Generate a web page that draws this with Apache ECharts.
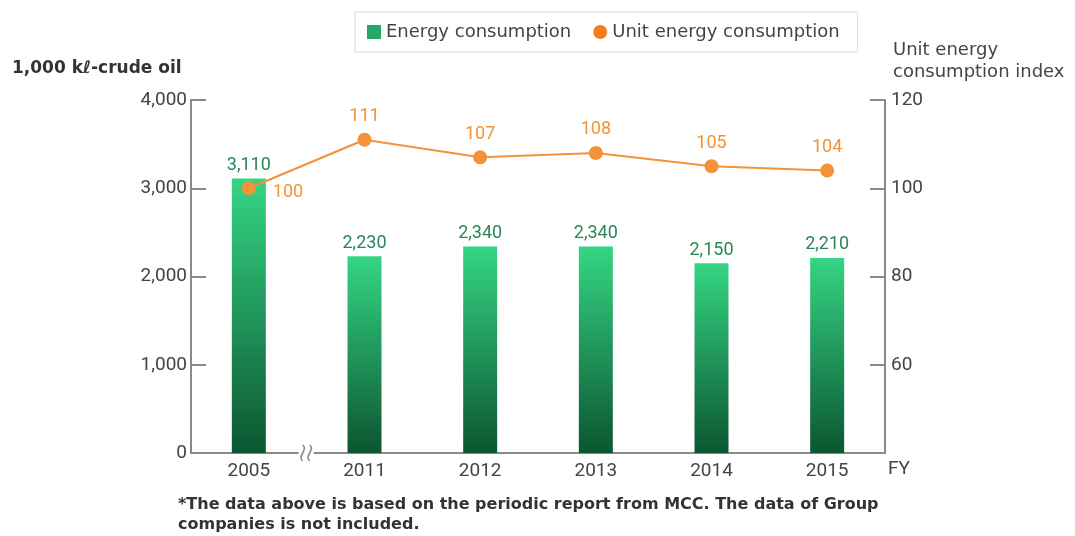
<!DOCTYPE html>
<html>
<head>
<meta charset="utf-8">
<script src="https://cdn.jsdelivr.net/npm/echarts@6/dist/echarts.min.js"></script>
<style>
  html, body { margin: 0; padding: 0; background: #fff; }
  #chart { width: 1075px; height: 536px; }
</style>
</head>
<body>
<div id="chart"></div>
<script>
var years = ['2005', '2011', '2012', '2013', '2014', '2015'];
var energy = [3110, 2230, 2340, 2340, 2150, 2210];
var unitIndex = [100, 111, 107, 108, 105, 104];
var leftTicks = [0, 1000, 2000, 3000, 4000];
var rightTicks = [40, 60, 80, 100, 120];

var FONT = 'Roboto, sans-serif';
var SANS = '"DejaVu Sans", sans-serif';
var axisGray = '#8a8a8a';
var orange = '#f39238';

var chart = echarts.init(document.getElementById('chart'));

// first point label sits to the lower right, others above
var lineData = unitIndex.map(function (v, i) {
    if (i === 0) {
        return { value: v, label: { position: 'right', offset: [10, 4] } };
    }
    return v;
});

chart.setOption({
    animation: false,
    grid: { left: 191, right: 190, top: 100, bottom: 83 },
    legend: {
        top: 12,
        left: 355,
        padding: [11, 18, 11, 12],
        borderColor: '#dcdcdc',
        borderWidth: 1,
        itemGap: 22,
        itemWidth: 14,
        itemHeight: 14,
        itemStyle: { borderWidth: 0 },
        textStyle: { fontSize: 18, color: '#444', fontFamily: SANS },
        data: [
            { name: 'Energy consumption', icon: 'rect', itemStyle: { color: '#25a766' } },
            { name: 'Unit energy consumption', icon: 'circle', itemStyle: { color: '#f47c1c' } }
        ]
    },
    graphic: [
        {
            id: 'leftName', type: 'text', left: 12, top: 60,
            style: { text: '1,000 kℓ-crude oil', fontSize: 17, fontWeight: 'bold', fill: '#333', fontFamily: SANS }
        },
        {
            id: 'rightName', type: 'text', left: 893, top: 39,
            style: { text: 'Unit energy\nconsumption index', fontSize: 18, lineHeight: 22, fill: '#444', fontFamily: SANS }
        },
        {
            id: 'fy', type: 'text', left: 888, top: 460,
            style: { text: 'FY', fontSize: 19, fill: '#444', fontFamily: FONT }
        },
        {
            id: 'note', type: 'text', left: 178, top: 495,
            style: {
                text: '*The data above is based on the periodic report from MCC. The data of Group\ncompanies is not included.',
                fontSize: 16, lineHeight: 20, fontWeight: 'bold', fill: '#333', fontFamily: SANS
            }
        }
    ],
    xAxis: {
        type: 'category',
        data: years,
        axisLine: { lineStyle: { color: axisGray, width: 2 } },
        axisTick: {
            inside: true, length: 15,
            interval: function (i) { return i >= 2; },
            lineStyle: { color: axisGray, width: 2 }
        },
        axisLabel: { fontSize: 19, color: '#444', margin: 9, fontFamily: FONT }
    },
    yAxis: [
        {
            type: 'value', min: 0, max: 4000, interval: 1000,
            axisLine: { show: true, lineStyle: { color: axisGray, width: 2 } },
            axisTick: { show: true, inside: true, length: 15, lineStyle: { color: axisGray, width: 2 } },
            splitLine: { show: false },
            axisLabel: {
                fontSize: 19, color: '#444', margin: 4, fontFamily: FONT,
                formatter: function (v) { return v.toLocaleString('en-US'); }
            }
        },
        {
            type: 'value', min: 40, max: 120, interval: 20,
            axisLine: { show: true, lineStyle: { color: axisGray, width: 2 } },
            axisTick: { show: true, inside: true, length: 15, lineStyle: { color: axisGray, width: 2 } },
            splitLine: { show: false },
            axisLabel: {
                fontSize: 19, color: '#444', margin: 6, fontFamily: FONT,
                formatter: function (v) { return v === 40 ? '' : String(v); }
            }
        }
    ],
    series: [
        {
            name: 'Energy consumption',
            type: 'bar',
            barWidth: 34,
            data: energy,
            itemStyle: {
                color: new echarts.graphic.LinearGradient(0, 0, 0, 1, [
                    { offset: 0, color: '#35d584' },
                    { offset: 1, color: '#0c5631' }
                ])
            },
            label: {
                show: true, position: 'top', distance: 4,
                fontSize: 18, color: '#2a8558', fontFamily: FONT,
                formatter: function (p) { return p.value.toLocaleString('en-US'); }
            }
        },
        {
            name: 'Unit energy consumption',
            type: 'line',
            yAxisIndex: 1,
            data: lineData,
            symbol: 'circle',
            symbolSize: 14,
            lineStyle: { color: orange, width: 2 },
            itemStyle: { color: orange },
            label: {
                show: true, position: 'top', distance: 7,
                fontSize: 18, color: orange, fontFamily: FONT
            },
            z: 5
        }
    ]
});

// axis break mark between the first two categories
var p0 = chart.convertToPixel({ xAxisIndex: 0 }, years[0]);
var p1 = chart.convertToPixel({ xAxisIndex: 0 }, years[1]);
var bx = (p0 + p1) / 2;
var by = chart.convertToPixel({ yAxisIndex: 0 }, 0);
function wave(id, x) {
    return {
        id: id,
        type: 'bezierCurve',
        shape: { x1: x, y1: by - 8, x2: x, y2: by + 8, cpx1: x + 6, cpy1: by - 3, cpx2: x - 6, cpy2: by + 3 },
        style: { stroke: axisGray, lineWidth: 1.6, fill: null },
        z: 100
    };
}
chart.setOption({
    graphic: [
        { id: 'breakGap', type: 'rect', shape: { x: bx - 8, y: by - 3, width: 15, height: 6 }, style: { fill: '#fff' }, z: 99 },
        wave('breakA', bx - 4),
        wave('breakB', bx + 3)
    ]
});
</script>
</body>
</html>
